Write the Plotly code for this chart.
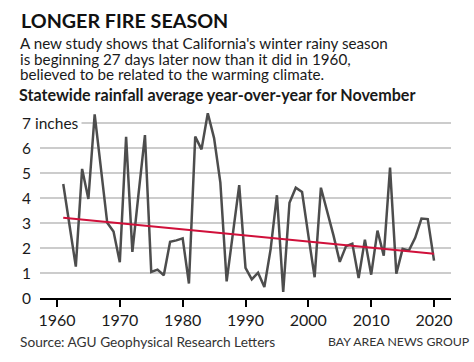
import plotly.graph_objects as go

years = list(range(1961, 2021))
rain = [4.55, 2.9, 1.25, 5.15, 3.95, 7.33, 5.1, 3.0, 2.65, 1.43,
        6.43, 1.84, 4.2, 6.5, 1.04, 1.13, 0.91, 2.24, 2.3, 2.38,
        0.58, 6.44, 5.93, 7.37, 6.38, 4.6, 0.66, 2.65, 4.5, 1.2,
        0.74, 1.01, 0.44, 1.95, 4.1, 0.24, 3.8, 4.4, 4.23, 2.5,
        0.83, 4.4, 3.5, 2.5, 1.44, 2.07, 2.17, 0.8, 2.33, 0.93,
        2.69, 1.69, 5.2, 0.97, 1.96, 1.89, 2.4, 3.17, 3.15, 1.49]
trend_years = [1961, 2020]
trend_values = [3.2, 1.77]
x_ticks = [1960, 1970, 1980, 1990, 2000, 2010, 2020]
y_ticks = [0, 1, 2, 3, 4, 5, 6, 7]
y_labels = ["0", "1", "2", "3", "4", "5", "6", "7 inches"]

W, H = 474, 362
L, R, T, B = 40, 23, 105, 64
PW, PH = W - L - R, H - T - B

def px(x):
    return (x - L) / PW

def py(y):
    return (H - B - y) / PH

FONT = "Lato"
TXT = "#1a1a1a"

fig = go.Figure()
fig.add_trace(go.Scatter(x=years, y=rain, mode="lines",
                         line=dict(color="#4d4d4d", width=2.5),
                         hoverinfo="skip", showlegend=False))
fig.add_trace(go.Scatter(x=trend_years, y=trend_values, mode="lines",
                         line=dict(color="#d0103a", width=2),
                         hoverinfo="skip", showlegend=False))

ann = []
for v, lab in zip(y_ticks, y_labels):
    ann.append(dict(xref="paper", yref="y", x=px(19), y=v, text=lab,
                    showarrow=False, xanchor="left", yanchor="middle",
                    font=dict(family=FONT, size=15.5, color=TXT),
                    bgcolor="white", borderpad=2))

ann.append(dict(xref="paper", yref="paper", x=px(19), y=py(20.5),
                text="<b>LONGER FIRE SEASON</b>", showarrow=False,
                xanchor="left", yanchor="middle",
                font=dict(family=FONT, size=19.7, color="#111111", weight=900)))
sub = ["A new study shows that California's winter rainy season",
       "is beginning 27 days later now than it did in 1960,",
       "believed to be related to the warming climate."]
for i, s in enumerate(sub):
    ann.append(dict(xref="paper", yref="paper", x=px(18), y=py(43.5 + 15 * i),
                    text=s, showarrow=False, xanchor="left", yanchor="middle",
                    font=dict(family=FONT, size=15.2, color=TXT)))
ann.append(dict(xref="paper", yref="paper", x=px(17), y=py(94),
                text="<b>Statewide rainfall average year-over-year for November</b>",
                showarrow=False, xanchor="left", yanchor="middle",
                font=dict(family=FONT, size=16.1, color=TXT)))
ann.append(dict(xref="paper", yref="paper", x=px(18), y=py(341),
                text="Source: AGU Geophysical Research Letters", showarrow=False,
                xanchor="left", yanchor="middle",
                font=dict(family=FONT, size=13.7, color="#333333")))
ann.append(dict(xref="paper", yref="paper", x=px(326), y=py(341),
                text="BAY AREA NEWS GROUP", showarrow=False,
                xanchor="left", yanchor="middle",
                font=dict(family=FONT, size=12.3, color="#333333")))

fig.update_layout(
    width=W, height=H, autosize=False,
    margin=dict(l=L, r=R, t=T, b=B, pad=0),
    paper_bgcolor="white", plot_bgcolor="white",
    xaxis=dict(range=[1957.3, 2022.7], tickvals=x_ticks,
               ticks="outside", ticklen=7, tickwidth=1.5, tickcolor="black",
               showline=True, linecolor="black", linewidth=2,
               showgrid=False, zeroline=False,
               tickfont=dict(family=FONT, size=16, color=TXT)),
    yaxis=dict(range=[0, 7.7], tickvals=y_ticks[1:], showticklabels=False,
               showgrid=True, gridcolor="#cccccc", gridwidth=1.5,
               zeroline=False, showline=False, ticks=""),
    annotations=ann,
)

fig.write_html("out.html", config={"displayModeBar": False},
               post_script="document.body.style.margin='0px';document.body.style.padding='0px';")
